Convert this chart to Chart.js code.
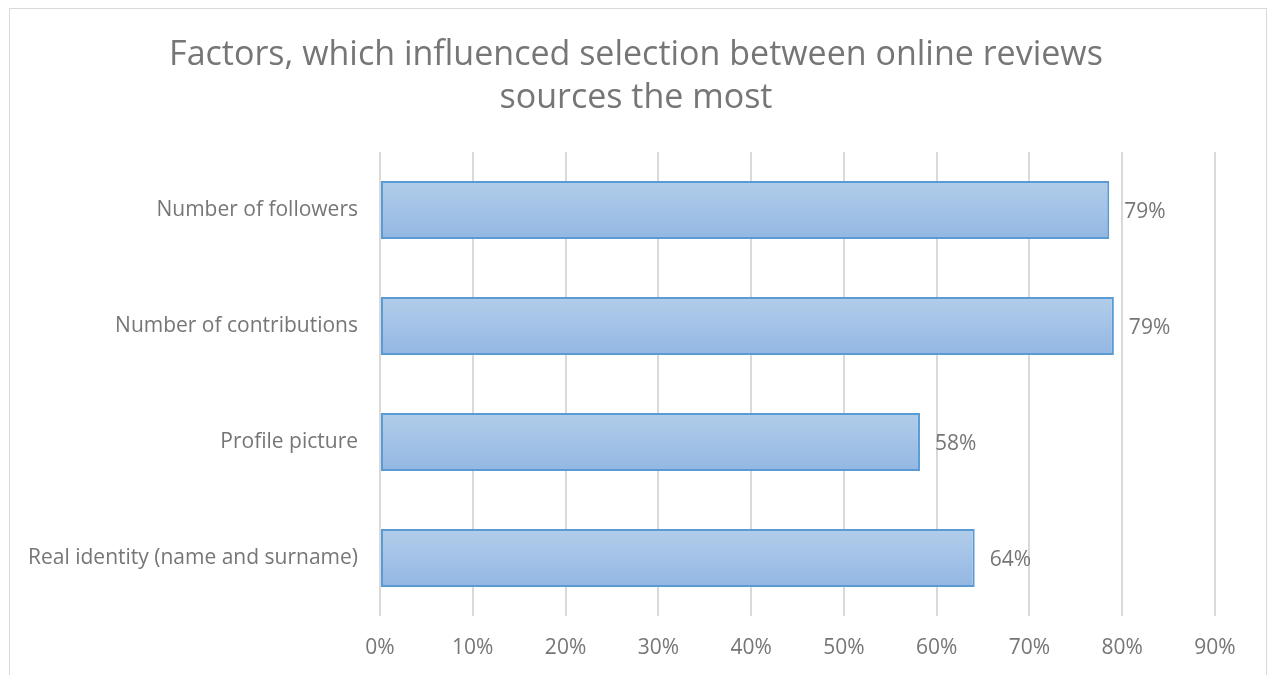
<!DOCTYPE html>
<html lang="en">
<head>
    <meta charset="UTF-8">
    <title>Online review sources</title>
    <script src="https://cdn.jsdelivr.net/npm/chart.js@4.4.0/dist/chart.umd.min.js"></script>
    <style>
        html, body { margin: 0; padding: 0; background: #fff; overflow: hidden; }
        .frame {
            position: absolute; left: 9px; top: 8px; width: 1256px; height: 700px;
            border: 1px solid #d9d9d9;
        }
        .wrap { position: absolute; left: 0; top: 0; width: 1270px; height: 675px; }
    </style>
</head>
<body>
    <div class="frame"></div>
    <div class="wrap"><canvas id="myChart" width="1270" height="675"></canvas></div>

<script>
// survey answers, share of respondents (%)
var titleLines = ['Factors, which influenced selection between online reviews', 'sources the most'];
var factors = [
    'Number of followers',
    'Number of contributions',
    'Profile picture',
    'Real identity (name and surname)'
];
var shares = [78.6, 79.1, 58.2, 64.1];
var axisMax = 90;
var axisStep = 10;

var grey = '#767676';
var font = "'Open Sans', sans-serif";

// light blue top-to-bottom fill for each bar
var barGradient = {
    id: 'barGradient',
    beforeDatasetsDraw: function (chart) {
        var ctx = chart.ctx;
        chart.getDatasetMeta(0).data.forEach(function (bar) {
            var top = bar.y - bar.height / 2;
            var g = ctx.createLinearGradient(0, top, 0, top + bar.height);
            g.addColorStop(0, '#b2cdea');
            g.addColorStop(1, '#93b7e3');
            bar.options = Object.assign({}, bar.options, { backgroundColor: g });
        });
    }
};

// percentage next to the end of each bar
var valueLabels = {
    id: 'valueLabels',
    afterDatasetsDraw: function (chart) {
        var ctx = chart.ctx;
        ctx.save();
        ctx.font = '21px ' + font;
        ctx.fillStyle = grey;
        ctx.textAlign = 'left';
        ctx.textBaseline = 'middle';
        chart.getDatasetMeta(0).data.forEach(function (bar, i) {
            ctx.fillText(Math.round(shares[i]) + '%', bar.x + 15, bar.y + 2);
        });
        ctx.restore();
    }
};

// title centred on the whole canvas, not on the plot area
var pageTitle = {
    id: 'pageTitle',
    afterDraw: function (chart) {
        var ctx = chart.ctx;
        ctx.save();
        ctx.font = '34px ' + font;
        ctx.fillStyle = grey;
        ctx.textAlign = 'center';
        ctx.textBaseline = 'middle';
        titleLines.forEach(function (line, i) {
            ctx.fillText(line, chart.width / 2 + 1, 55 + i * 43);
        });
        ctx.restore();
    }
};

var ctx = document.getElementById('myChart').getContext('2d');
var myChart = new Chart(ctx, {
    type: 'bar',
    data: {
        labels: factors,
        datasets: [{
            data: shares,
            backgroundColor: '#a3c2e7',
            borderColor: '#5b9bd5',
            borderWidth: 2,
            borderSkipped: false,
            barPercentage: 0.5,
            categoryPercentage: 1
        }]
    },
    options: {
        indexAxis: 'y',
        responsive: false,
        animation: false,
        layout: { padding: { left: 0, right: 55, top: 152, bottom: 0 } },
        plugins: {
            legend: { display: false },
            tooltip: { enabled: false },
            title: { display: false }
        },
        scales: {
            x: {
                min: 0,
                max: axisMax,
                ticks: {
                    stepSize: axisStep,
                    color: grey,
                    padding: 19,
                    font: { family: font, size: 21 },
                    callback: function (v) { return v + '%'; }
                },
                grid: { color: '#d9d9d9', lineWidth: 2, drawTicks: false },
                border: { display: false },
                afterFit: function (scale) { scale.height = 59; }
            },
            y: {
                ticks: {
                    color: grey,
                    padding: 22,
                    font: { family: font, size: 21 }
                },
                grid: { display: false, drawTicks: false },
                border: { display: false },
                afterFit: function (scale) { scale.width = 380; }
            }
        }
    },
    plugins: [barGradient, valueLabels, pageTitle]
});
</script>
</body>
</html>
